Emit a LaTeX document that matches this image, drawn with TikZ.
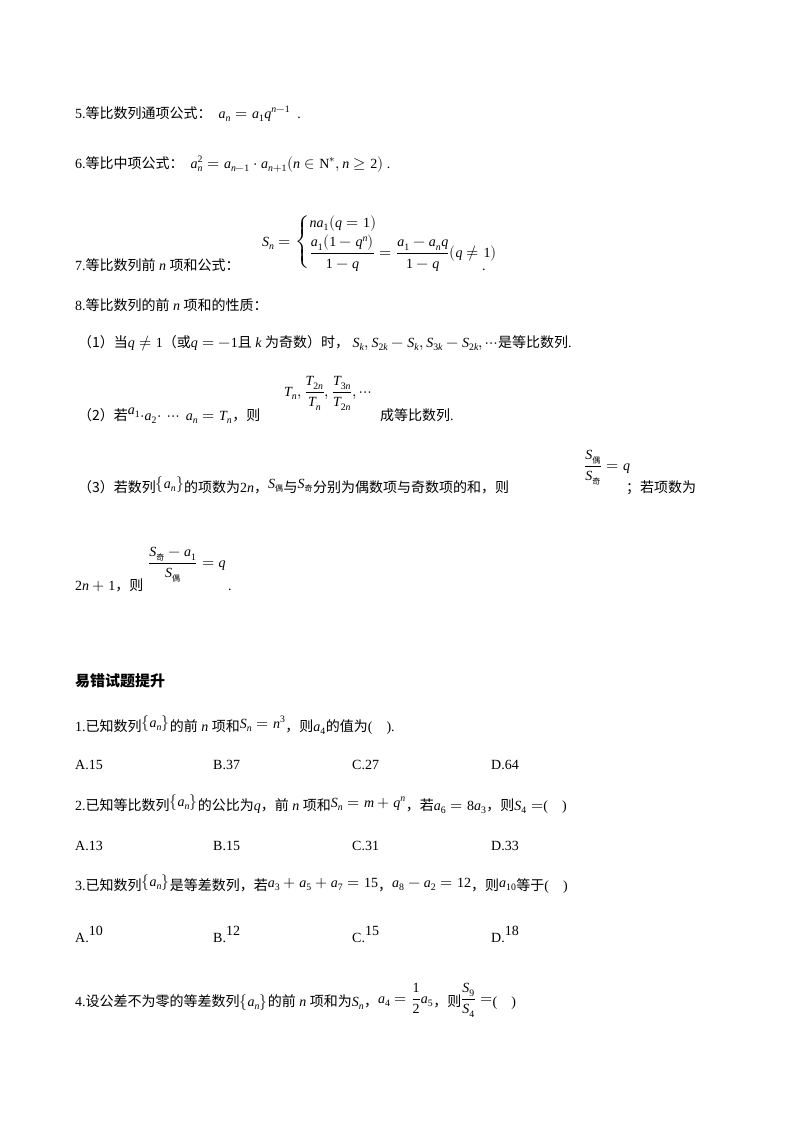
\documentclass[tikz,border=0pt]{standalone}
\usepackage{amsmath}
\usepackage{unicode-math}
\setmainfont{Liberation Serif}
\setmathfont{Latin Modern Math}[Scale=1.12]
\setmathfont{Liberation Serif Italic}[range=it]
\setmathfont{Liberation Serif}[range=up]
\newfontfamily\cjk{Noto Sans CJK SC}
\newcommand{\zh}[1]{{\cjk #1}}
\newcommand{\mzh}[1]{\mbox{\cjk\fontsize{8}{9}\selectfont #1}}
\begin{document}
\begin{tikzpicture}[x=1pt,y=-1pt,
  every node/.style={anchor=base west,inner sep=0pt,font=\fontsize{14}{17}\selectfont}]
\useasboundingbox (0,0) rectangle (800,1132);
\node (l5) at (75,118) {5.\zh{等比数列通项公式：}\ \ $a_n=a_1q^{n-1}$\ \ .};
\node (l6) at (75,168) {6.\zh{等比中项公式：}\ \ $a_n^2=a_{n-1}\cdot a_{n+1}(n\in\mathrm{N}^*,n\ge 2)$\ .};
\node (l7) at (75,270) {7.\zh{等比数列前} $n$ \zh{项和公式：}};
\node (f7) at (262,246) {$S_n=\begin{cases} na_1(q=1)\\[2pt] \dfrac{a_1(1-q^n)}{1-q}=\dfrac{a_1-a_nq}{1-q}(q\ne 1)\end{cases}$};
\node (d7) at (482,270) {.};
\node (l8) at (75,310) {8.\zh{等比数列的前} $n$ \zh{项和的性质：}};
\node (p1) at (78,347) {\zh{（1）当}$q\ne 1$\zh{（或}$q=-1$\zh{且} $k$ \zh{为奇数）时，} $S_k,S_{2k}-S_k,S_{3k}-S_{2k},\cdots$\zh{是等比数列}.};
\node (p2) at (78,420) {\zh{（2）若}\raisebox{6pt}{$a_1$}$\cdot$\raisebox{0pt}{$a_2$}$\cdot\ \cdots\ a_n=T_n$\zh{，则}};
\node (p2f) at (284,396) {$T_n,\dfrac{T_{2n}}{T_n},\dfrac{T_{3n}}{T_{2n}},\cdots$};
\node (p2e) at (380,420) {\zh{成等比数列}.};
\node (p3) at (78,492) {\zh{（3）若数列}\raisebox{4pt}{$\{a_n\}$}\zh{的项数为}$2n$\zh{，}\raisebox{4pt}{$S_{\mzh{偶}}$}\zh{与}\raisebox{4pt}{$S_{\mzh{奇}}$}\zh{分别为偶数项与奇数项的和，则}};
\node (p3f) at (584,470) {$\dfrac{S_{\mzh{偶}}}{S_{\mzh{奇}}}=q$};
\node (p3e) at (626,492) {\zh{；若项数为}};
\node (p4) at (75,590) {$2n+1$\zh{，则}};
\node (p4f) at (148,567) {$\dfrac{S_{\mzh{奇}}-a_1}{S_{\mzh{偶}}}=q$};
\node (p4e) at (228,590) {.};
\node (h) at (75,686) {\cjk\bfseries\fontsize{15}{18}\selectfont 易错试题提升};
\node (q1) at (75,731) {1.\zh{已知数列}\raisebox{4pt}{$\{a_n\}$}\zh{的前} $n$ \zh{项和}\raisebox{3pt}{$S_n=n^3$}\zh{，则}$a_4$\zh{的值为}(\quad).};
\node (q1a) at (75,769) {A.15}; \node (q1b) at (213,769) {B.37}; \node (q1c) at (352,769) {C.27}; \node (q1d) at (491,769) {D.64};
\node (q2) at (75,810) {2.\zh{已知等比数列}\raisebox{4pt}{$\{a_n\}$}\zh{的公比为}$q$\zh{，前} $n$ \zh{项和}\raisebox{3pt}{$S_n=m+q^n$}\zh{，若}$a_6=8a_3$\zh{，则}$S_4=$(\quad)};
\node (q2a) at (75,850) {A.13}; \node (q2b) at (213,850) {B.15}; \node (q2c) at (352,850) {C.31}; \node (q2d) at (491,850) {D.33};
\node (q3) at (75,890) {3.\zh{已知数列}\raisebox{4pt}{$\{a_n\}$}\zh{是等差数列，若}\raisebox{3pt}{$a_3+a_5+a_7=15$}\zh{，}\raisebox{3pt}{$a_8-a_2=12$}\zh{，则}\raisebox{3pt}{$a_{10}$}\zh{等于}(\quad)};
\node (q3a) at (75,942) {A.\raisebox{7pt}{10}}; \node (q3b) at (213,942) {B.\raisebox{7pt}{12}}; \node (q3c) at (352,942) {C.\raisebox{7pt}{15}}; \node (q3d) at (491,942) {D.\raisebox{7pt}{18}};
\node (q4) at (75,1006) {4.\zh{设公差不为零的等差数列}$\{a_n\}$\zh{的前} $n$ \zh{项和为}$S_n$\zh{，}\raisebox{3pt}{$a_4=\dfrac12a_5$}\zh{，则}\raisebox{3pt}{$\dfrac{S_9}{S_4}=$}(\quad)};
\end{tikzpicture}
\end{document}
